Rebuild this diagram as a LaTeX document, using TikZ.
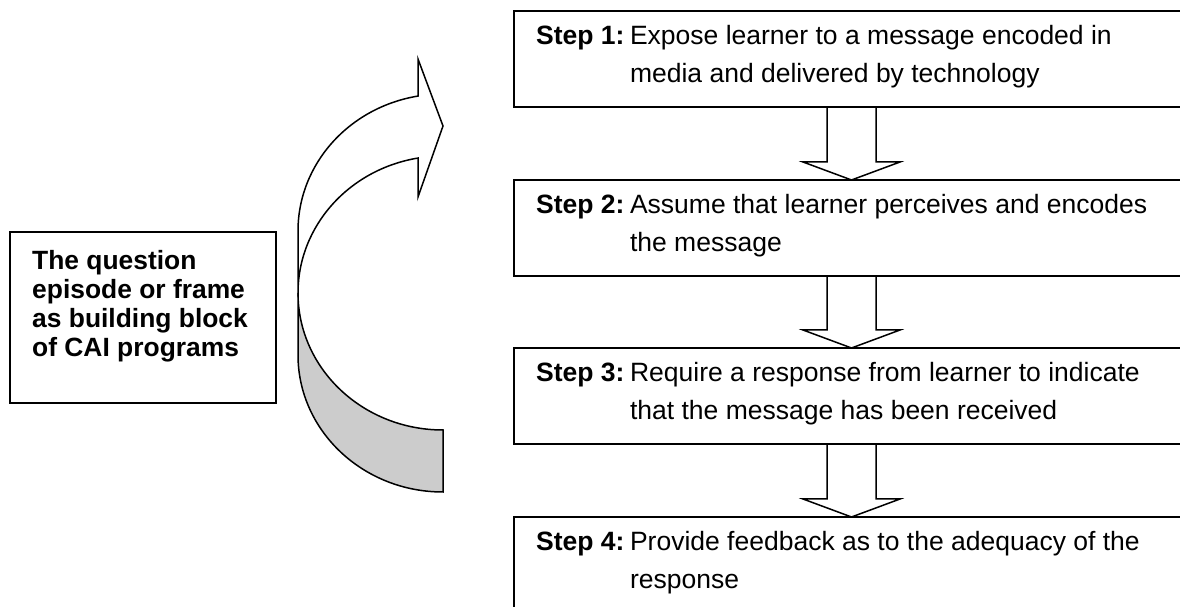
\documentclass[tikz,border=0pt]{standalone}
\usepackage{fontspec}
\setmainfont{Liberation Sans}
\usetikzlibrary{calc}
\definecolor{backgray}{RGB}{204,204,204}
\tikzset{
  stepbox/.style={draw, line width=1.5pt, minimum width=700pt, minimum height=96pt, inner sep=0pt, outer sep=0pt},
  leftbox/.style={draw, line width=1.5pt, minimum width=266pt, minimum height=171pt, inner sep=0pt, outer sep=0pt},
  steptext/.style={anchor=base west, inner sep=0pt, font=\fontsize{26.5}{37.5}\selectfont},
  lefttext/.style={anchor=base west, inner sep=0pt, font=\fontsize{26.4}{29}\selectfont\bfseries},
  blockarrow/.style={draw, line width=1.5pt, line join=miter},
  curvearrow/.style={draw, line width=1.5pt, line join=miter},
}
% block arrow from the bottom of box #1 to the top of box #2, centred 337.5pt from their left edges
\newcommand\stepconnector[2]{%
  \draw[blockarrow] ($(#1.south west)+(313,0)$) -- ($(#2.north west)+(313,18)$) -- ($(#2.north west)+(289,18)$)
    -- ($(#2.north west)+(337.5,0)$) -- ($(#2.north west)+(386,18)$) -- ($(#2.north west)+(362,18)$) -- ($(#1.south west)+(362,0)$);}
\begin{document}
\begin{tikzpicture}[x=1pt, y=1pt]
\useasboundingbox (0,0) rectangle (1180,607);
\fill[white] (0,0) rectangle (1180,607);
\clip (0,0) rectangle (1180,607);

% left box
\node[leftbox] (q) at (143,289.5) {};
\node[lefttext] (qt) at ($(q.north west)+(22,-38)$)
  {\begin{tabular}[t]{@{}l@{}}The question\\episode or frame\\as building block\\of CAI programs\end{tabular}};

% step boxes (they run past the right and bottom edges of the picture)
\node[stepbox] (s1) at (864,548) {};
\node[stepbox] (s2) at (864,379) {};
\node[stepbox] (s3) at (864,211) {};
\node[stepbox] (s4) at (864,42) {};

\node[steptext] (t1) at ($(s1.north west)+(22,-34)$)
  {\begin{tabular}[t]{@{}l@{\hspace{5.5pt}}l@{}}\textbf{Step 1:} & Expose learner to a message encoded in\\ & media and delivered by technology\end{tabular}};
\node[steptext] (t2) at ($(s2.north west)+(22,-34)$)
  {\begin{tabular}[t]{@{}l@{\hspace{5.5pt}}l@{}}\textbf{Step 2:} & Assume that learner perceives and encodes\\ & the message\end{tabular}};
\node[steptext] (t3) at ($(s3.north west)+(22,-34)$)
  {\begin{tabular}[t]{@{}l@{\hspace{5.5pt}}l@{}}\textbf{Step 3:} & Require a response from learner to indicate\\ & that the message has been received\end{tabular}};
\node[steptext] (t4) at ($(s4.north west)+(22,-34)$)
  {\begin{tabular}[t]{@{}l@{\hspace{5.5pt}}l@{}}\textbf{Step 4:} & Provide feedback as to the adequacy of the\\ & response\end{tabular}};

% block arrows between steps
\stepconnector{s1}{s2}
\stepconnector{s2}{s3}
\stepconnector{s3}{s4}

% curved arrow: shaded back part
\path[curvearrow, fill=backgray] (298,314) -- (298,252)
  arc[start angle=180, end angle=270, x radius=145pt, y radius=137pt]
  -- (443,177)
  arc[start angle=270, end angle=180, x radius=145pt, y radius=137pt]
  -- cycle;
% curved arrow: front part with head
\path[curvearrow, fill=white] (298,314) -- (298,376)
  arc[start angle=180, end angle=99.93, x radius=145pt, y radius=137pt]
  -- (418,548) -- (443,481) -- (418,410) -- (418,448.95)
  arc[start angle=99.93, end angle=180, x radius=145pt, y radius=137pt]
  -- cycle;
\end{tikzpicture}
\end{document}
